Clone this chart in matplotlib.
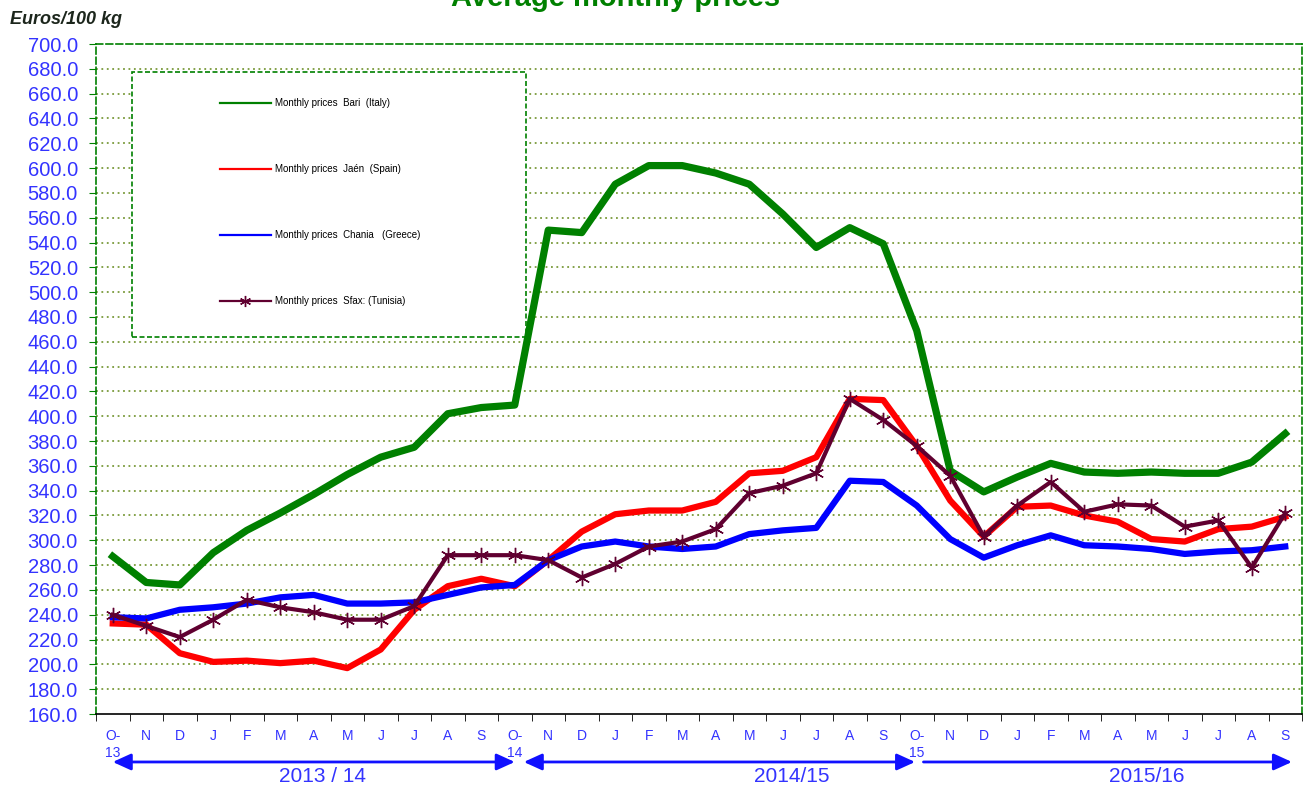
import numpy as np
import matplotlib
matplotlib.use('Agg')
import matplotlib.pyplot as plt
from matplotlib.patches import Rectangle

plt.rcParams['font.family'] = ['Liberation Sans', 'DejaVu Sans']

# data (Euros/100 kg), Oct 2013 -> Sep 2016
months = ['O-\n13', 'N', 'D', 'J', 'F', 'M', 'A', 'M', 'J', 'J', 'A', 'S',
          'O-\n14', 'N', 'D', 'J', 'F', 'M', 'A', 'M', 'J', 'J', 'A', 'S',
          'O-\n15', 'N', 'D', 'J', 'F', 'M', 'A', 'M', 'J', 'J', 'A', 'S']
bari = [287, 266, 264, 290, 308, 322, 337, 353, 367, 375, 402, 407,
        409, 550, 548, 587, 602, 602, 596, 587, 563, 536, 552, 539,
        469, 356, 339, 351, 362, 355, 354, 355, 354, 354, 363, 386]
jaen = [233, 232, 209, 202, 203, 201, 203, 197, 212, 244, 263, 269,
        263, 284, 307, 321, 324, 324, 331, 354, 356, 367, 414, 413,
        376, 332, 303, 327, 328, 320, 315, 301, 299, 309, 311, 319]
chania = [238, 237, 244, 246, 249, 254, 256, 249, 249, 250, 256, 262,
          264, 284, 295, 299, 295, 293, 295, 305, 308, 310, 348, 347,
          328, 301, 286, 296, 304, 296, 295, 293, 289, 291, 292, 295]
sfax = [240, 231, 222, 236, 252, 246, 242, 236, 236, 247, 288, 288,
        288, 284, 270, 281, 295, 299, 309, 338, 344, 354, 414, 397,
        376, 352, 303, 328, 347, 323, 329, 328, 311, 316, 278, 322]
seasons = ['2013 / 14', '2014/15', '2015/16']
labels = ['Monthly prices  Bari  (Italy)', 'Monthly prices  Jaén  (Spain)',
          'Monthly prices  Chania   (Greece)', 'Monthly prices  Sfax: (Tunisia)']

GREEN = '#008000'
BLUE = '#3333ff'

fig = plt.figure(figsize=(13.04, 7.93), dpi=100)
ax = fig.add_axes([96/1304, 79/793, 1206/1304, 670/793])

x = np.arange(len(months))
ax.plot(x, bari, color=GREEN, lw=5.2, label=labels[0], zorder=4)
ax.plot(x, jaen, color='#ff0000', lw=4.5, label=labels[1], zorder=4)
ax.plot(x, chania, color='#0000ff', lw=4.5, label=labels[2], zorder=4)
ax.plot(x, sfax, color='#600030', lw=3, marker=(6, 2, 0), ms=11, mew=1,
        label=labels[3], zorder=5)

ax.set_xlim(-0.5, len(months) - 0.5)
ax.set_ylim(160, 700)
ax.set_yticks(np.arange(160, 701, 20))
ax.set_yticklabels(['%.1f' % v for v in np.arange(160, 701, 20)])
ax.tick_params(axis='y', colors=GREEN, labelcolor=BLUE, labelsize=14.5,
               length=5, pad=8)
ax.set_xticks(x)
ax.set_xticklabels(months, linespacing=1.25)
ax.set_xticks(np.arange(-0.5, len(months), 1), minor=True)
ax.tick_params(axis='x', which='major', length=0, labelcolor=BLUE,
               labelsize=10, pad=11)
ax.tick_params(axis='x', which='minor', length=5, color='black')

for yv in np.arange(180, 700, 20):
    ax.axhline(yv, color='#7a9a3a', lw=1.3, ls=(0, (1, 2)), zorder=1)

for s in ['top', 'left', 'right']:
    ax.spines[s].set_color(GREEN)
    ax.spines[s].set_linestyle((0, (4, 2)))
    ax.spines[s].set_linewidth(1.2)
ax.spines['bottom'].set_color('black')
ax.spines['bottom'].set_linewidth(1.2)

# legend box
ax.add_patch(Rectangle((0.0299, 0.5627), 0.3267, 0.3955, transform=ax.transAxes,
                       facecolor='white', edgecolor=GREEN, lw=1.2,
                       ls=(0, (3, 1.5)), zorder=2))
leg = ax.legend(loc='upper left', bbox_to_anchor=(0.1028, 0.919), frameon=False,
                fontsize=7, handlelength=5.2, handletextpad=0.5,
                labelspacing=5.75, borderpad=0, borderaxespad=0)
for ln in leg.get_lines():
    ln.set_linewidth(1.6)
    ln.set_markersize(8)
leg.set_zorder(6)

# season arrows below axis
arrows = [(0, 12.0, '<|-|>'), (12.27, 23.95, '<|-|>'), (24.2, 35.2, '-|>')]
centers = [6.26, 20.26, 30.86]
for (a, b, st), c, name in zip(arrows, centers, seasons):
    ax.annotate('', xy=(b, -0.0716), xytext=(a, -0.0716),
                xycoords=('data', 'axes fraction'),
                textcoords=('data', 'axes fraction'),
                arrowprops=dict(arrowstyle=st + ',head_length=0.55,head_width=0.25',
                                color='#1010ff', lw=2, mutation_scale=20,
                                shrinkA=0, shrinkB=0))
    ax.text(c, -0.079, name, transform=ax.get_xaxis_transform(), ha='center',
            va='top', fontsize=15, color=BLUE)

fig.text(10/1304, 1 - 24/793, 'Euros/100 kg', fontsize=13, fontweight='bold',
         fontstyle='italic', color='#1c261c', ha='left', va='baseline')
fig.text(616/1304, 1 - 6/793, 'Average monthly prices', fontsize=21,
         fontweight='bold', color=GREEN, ha='center', va='baseline')

fig.savefig('out.png', dpi=100)
